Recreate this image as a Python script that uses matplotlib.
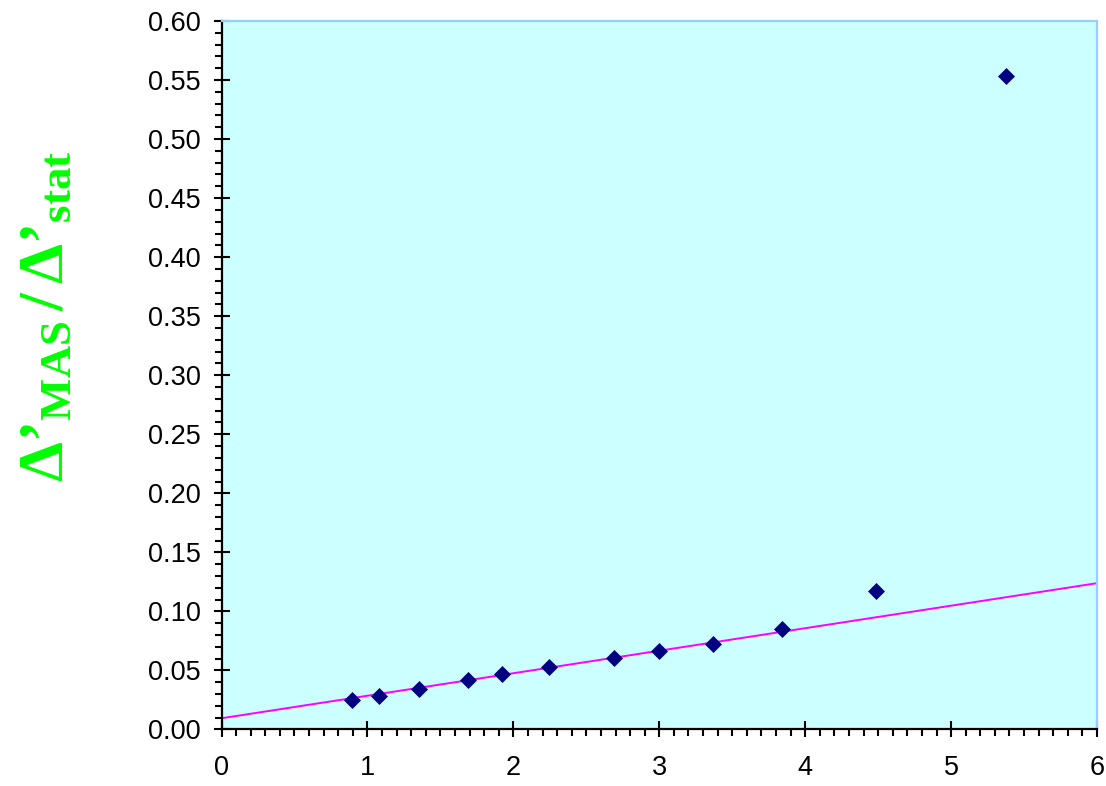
import numpy as np
import matplotlib.pyplot as plt
from matplotlib.ticker import MultipleLocator, FormatStrFormatter

# data
x_pts = [0.893, 1.076, 1.351, 1.691, 1.920, 2.241, 2.689, 3.000, 3.368, 3.839, 4.483, 5.375]
y_pts = [0.0250, 0.0286, 0.0343, 0.0420, 0.0473, 0.0532, 0.0608, 0.0668, 0.0722, 0.0854, 0.1176, 0.5538]

# trend line end points
trend_x = [0.0, 6.0]
trend_y = [0.0095, 0.1239]

plt.rcParams['font.family'] = ['Liberation Sans', 'DejaVu Sans']
plt.rcParams['mathtext.fontset'] = 'custom'
plt.rcParams['mathtext.rm'] = 'Liberation Serif:bold'
plt.rcParams['mathtext.it'] = 'Liberation Serif:bold'
plt.rcParams['mathtext.bf'] = 'Liberation Serif:bold'

fig = plt.figure(figsize=(11.06, 7.86), dpi=100)
ax = fig.add_axes([0.2003, 0.0719, 0.7916, 0.9014])
ax.set_facecolor('#CCFFFF')

ax.plot(trend_x, trend_y, color='#FF00FF', lw=1.4, zorder=2)
ax.plot(x_pts, y_pts, 'D', color='#000080', markersize=7.8, markeredgewidth=0.5, zorder=3)

ax.set_xlim(0, 6)
ax.set_ylim(0, 0.6)
ax.xaxis.set_major_locator(MultipleLocator(1))
ax.xaxis.set_minor_locator(MultipleLocator(0.1))
ax.yaxis.set_major_locator(MultipleLocator(0.05))
ax.yaxis.set_minor_locator(MultipleLocator(0.01))
ax.yaxis.set_major_formatter(FormatStrFormatter('%.2f'))

for s in ['left', 'bottom']:
    ax.spines[s].set_color('black')
    ax.spines[s].set_linewidth(1.6)
for s in ['top', 'right']:
    ax.spines[s].set_color('#99CCFF')
    ax.spines[s].set_linewidth(1.6)

ax.tick_params(axis='x', which='major', direction='inout', length=11, width=1.5, labelsize=19.5, pad=13)
ax.tick_params(axis='x', which='minor', direction='out', length=5, width=1.5)
ax.tick_params(axis='y', which='major', direction='inout', length=12, width=1.5, labelsize=19.5, pad=9)
ax.tick_params(axis='y', which='minor', direction='out', length=5, width=1.5)

fig.text(0.042, 1 - 316 / 786, "$\\Delta\u2019_{MAS}\\,/\\,\\Delta\u2019_{stat}$",
         rotation=90, ha='center', va='center', color='#00FF00', fontsize=46)

fig.savefig('out.png', dpi=100)
